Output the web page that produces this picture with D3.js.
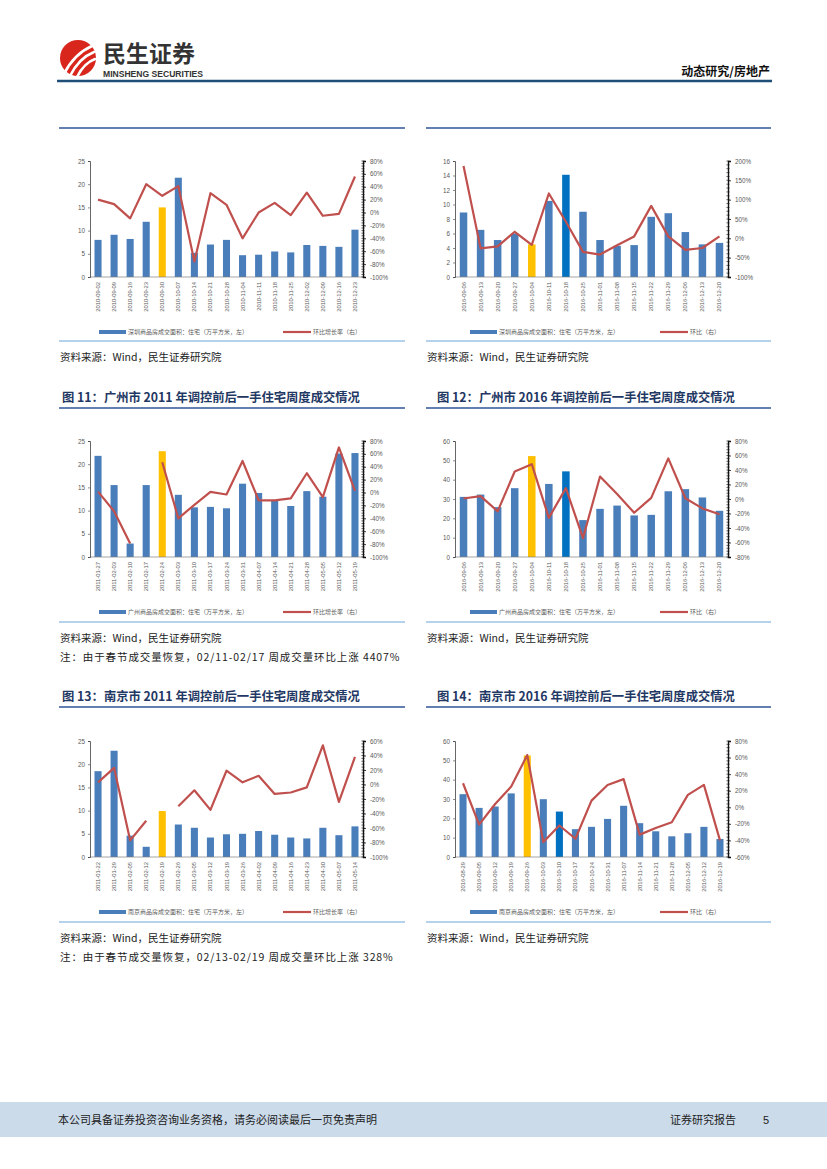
<!DOCTYPE html>
<html>
<head>
<meta charset="utf-8">
<script src="https://cdn.jsdelivr.net/npm/d3@7"></script>
<style>
  body { margin: 0; background: #fff; }
  svg { display: block; }
</style>
</head>
<body>
<svg id="page" width="827" height="1169"></svg>
<script>
// ---- data ----
// 深圳 2010
const sz2010Dates = ["2010-09-02","2010-09-09","2010-09-16","2010-09-23","2010-09-30","2010-10-07","2010-10-14","2010-10-21","2010-10-28","2010-11-04","2010-11-11","2010-11-18","2010-11-25","2010-12-02","2010-12-09","2010-12-16","2010-12-23"];
const sz2010Area = [8.0, 9.1, 8.2, 11.9, 15.0, 21.4, 5.2, 7.0, 8.0, 4.7, 4.8, 5.5, 5.3, 6.9, 6.7, 6.5, 10.2];
const sz2010Chg = [20, 13, -9, 44, 26, 41, -76, 30, 12, -40, 0, 15, -4, 31, -5, -2, 56];

// 深圳 2016
const sz2016Dates = ["2016-09-06","2016-09-13","2016-09-20","2016-09-27","2016-10-04","2016-10-11","2016-10-18","2016-10-25","2016-11-01","2016-11-08","2016-11-15","2016-11-22","2016-11-29","2016-12-06","2016-12-13","2016-12-20"];
const sz2016Area = [8.9, 6.5, 5.1, 6.0, 4.5, 10.5, 14.1, 9.0, 5.1, 4.3, 4.4, 8.3, 8.8, 6.2, 4.5, 4.7];
const sz2016Chg = [187, -26, -21, 17, -17, 116, 43, -35, -42, -18, 5, 84, 5, -30, -25, 5];

// 广州 2011 (02-17 周环比 4407%，图中不画)
const gz2011Dates = ["2011-01-27","2011-02-03","2011-02-10","2011-02-17","2011-02-24","2011-03-03","2011-03-10","2011-03-17","2011-03-24","2011-03-31","2011-04-07","2011-04-14","2011-04-21","2011-04-28","2011-05-05","2011-05-12","2011-05-19"];
const gz2011Area = [21.8, 15.5, 2.9, 15.5, 22.8, 13.4, 10.7, 10.8, 10.5, 15.8, 13.8, 12.3, 11.0, 14.2, 13.0, 22.3, 22.4];
const gz2011Chg = [1.5, -29, -79, null, 47, -40, -19, 1, -3, 49, -12, -12, -9, 30, -7, 70, 2.6];

// 广州 2016
const gz2016Dates = ["2016-09-06","2016-09-13","2016-09-20","2016-09-27","2016-10-04","2016-10-11","2016-10-18","2016-10-25","2016-11-01","2016-11-08","2016-11-15","2016-11-22","2016-11-29","2016-12-06","2016-12-13","2016-12-20"];
const gz2016Area = [31.1, 32.3, 25.8, 35.6, 52.2, 37.8, 44.3, 19.1, 24.9, 26.6, 21.5, 21.8, 34.0, 35.1, 30.8, 23.9];
const gz2016Chg = [0.7, 4, -17, 38, 48, -26, 15, -54, 31, 7, -19, 1.6, 56, 1, -13, -21];

// 南京 2011 (02-19 周环比 328%，图中不画)
const nj2011Dates = ["2011-01-22","2011-01-29","2011-02-05","2011-02-12","2011-02-19","2011-02-26","2011-03-05","2011-03-12","2011-03-19","2011-03-26","2011-04-02","2011-04-09","2011-04-16","2011-04-23","2011-04-30","2011-05-07","2011-05-14"];
const nj2011Area = [18.5, 22.9, 4.6, 2.2, 9.9, 7.0, 6.3, 4.2, 4.9, 5.0, 5.6, 4.8, 4.2, 4.0, 6.3, 4.7, 6.6];
const nj2011Chg = [3, 23, -77, -50, null, -30, -8, -35, 19, 3, 12, -13, -11, -4, 54, -24, 38];

// 南京 2016
const nj2016Dates = ["2016-08-29","2016-09-05","2016-09-12","2016-09-19","2016-09-26","2016-10-03","2016-10-10","2016-10-17","2016-10-24","2016-10-31","2016-11-07","2016-11-14","2016-11-21","2016-11-28","2016-12-05","2016-12-12","2016-12-19"];
const nj2016Area = [32.5, 25.4, 26.1, 32.9, 52.5, 29.9, 23.5, 14.4, 15.6, 19.7, 26.5, 17.5, 13.3, 10.7, 12.3, 15.6, 9.3];
const nj2016Chg = [29, -21, 4, 25, 63, -42, -22, -38, 8, 27, 34, -33, -25, -18, 15, 27, -40];

// axis ticks
const ticks25 = [0, 5, 10, 15, 20, 25];
const ticks16 = [0, 2, 4, 6, 8, 10, 12, 14, 16];
const ticks60 = [0, 10, 20, 30, 40, 50, 60];
const pct100to80 = [-100, -80, -60, -40, -20, 0, 20, 40, 60, 80];
const pct100to200 = [-100, -50, 0, 50, 100, 150, 200];
const pct80to80 = [-80, -60, -40, -20, 0, 20, 40, 60, 80];
const pct100to60 = [-100, -80, -60, -40, -20, 0, 20, 40, 60];
const pct60to80 = [-60, -40, -20, 0, 20, 40, 60, 80];

const legendArea = {
  sz: "深圳商品房成交面积：住宅（万平方米，左）",
  gz: "广州商品房成交面积：住宅（万平方米，左）",
  nj: "南京商品房成交面积：住宅（万平方米，左）"
};

// ---- styles ----
const BLUE = "#4a7ebb", YELLOW = "#ffc000", DARKBLUE = "#0070c0", RED = "#c0504d";
const SANS = "'Liberation Sans', Arial, sans-serif";
const CJK = "'Noto Sans CJK SC', sans-serif";

const svg = d3.select("#page");

function drawChart(o) {
  const g = svg.append("g");
  const x0 = o.px + 30, x1 = o.px + 303;
  const y0 = o.py, y1 = o.py + 116;

  const x = d3.scaleBand().domain(o.dates).range([x0, x1]).paddingInner(0.56).paddingOuter(0.28);
  const yL = d3.scaleLinear().domain(d3.extent(o.leftTicks)).range([y1, y0]);
  const yR = d3.scaleLinear().domain(d3.extent(o.rightTicks)).range([y1, y0]);

  // bars
  g.selectAll("rect.bar").data(o.area).join("rect")
    .attr("class", "bar")
    .attr("x", (d, i) => x(o.dates[i]))
    .attr("y", d => yL(d))
    .attr("width", x.bandwidth())
    .attr("height", d => yL(0) - yL(d))
    .attr("fill", (d, i) => (o.highlight && o.highlight[o.dates[i]]) || BLUE);

  // bottom axis line
  g.append("line").attr("x1", x0).attr("x2", x1).attr("y1", y1).attr("y2", y1)
    .attr("stroke", "#7f7f7f").attr("stroke-width", 0.7);

  // left axis
  const la = g.append("g").attr("transform", `translate(${x0},0)`)
    .call(d3.axisLeft(yL).tickValues(o.leftTicks).tickSize(2).tickPadding(3));
  la.select(".domain").attr("stroke", "#404040").attr("stroke-width", 0.8);
  la.selectAll(".tick line").attr("stroke", "#404040").attr("stroke-width", 0.6);
  la.selectAll("text").attr("font-family", SANS).attr("font-size", 6.3).attr("fill", "#595959");

  // right axis with minor ticks
  const step = o.rightTicks[1] - o.rightTicks[0];
  const minor = d3.range(o.rightTicks[0], o.rightTicks[o.rightTicks.length - 1] + 0.001, step / 5);
  g.append("g").selectAll("line").data(minor).join("line")
    .attr("x1", x1 - 1.6).attr("x2", x1 + 1.6)
    .attr("y1", d => yR(d)).attr("y2", d => yR(d))
    .attr("stroke", "#111").attr("stroke-width", 0.6);
  const ra = g.append("g").attr("transform", `translate(${x1},0)`)
    .call(d3.axisRight(yR).tickValues(o.rightTicks).tickSize(3).tickPadding(4).tickFormat(d => d + "%"));
  ra.select(".domain").attr("stroke", "#111").attr("stroke-width", 1.4);
  ra.selectAll(".tick line").attr("stroke", "#111").attr("stroke-width", 0.8);
  ra.selectAll("text").attr("font-family", SANS).attr("font-size", 6.3).attr("fill", "#595959");

  // line
  const line = d3.line()
    .defined(d => d != null)
    .x((d, i) => x(o.dates[i]) + x.bandwidth() / 2)
    .y(d => yR(d));
  g.append("path").datum(o.chg)
    .attr("d", line)
    .attr("fill", "none").attr("stroke", RED).attr("stroke-width", 2.2)
    .attr("stroke-linejoin", "round");

  // x labels
  g.selectAll("text.xl").data(o.dates).join("text")
    .attr("class", "xl")
    .attr("transform", d => `translate(${x(d) + x.bandwidth() / 2 + 2},${y1 + 5}) rotate(-90)`)
    .attr("text-anchor", "end")
    .attr("font-family", SANS).attr("font-size", 5.8).attr("fill", "#595959")
    .text(d => d);

  // legend
  const ly = o.py + 171;
  g.append("rect").attr("x", o.px + o.leg[0]).attr("y", ly - 2).attr("width", 27).attr("height", 4).attr("fill", BLUE);
  g.append("text").attr("x", o.px + o.leg[0] + 29).attr("y", ly + 2.2)
    .attr("font-family", CJK).attr("font-size", 6).attr("fill", "#595959").text(o.legA);
  g.append("line").attr("x1", o.px + o.leg[1]).attr("x2", o.px + o.leg[1] + 28)
    .attr("y1", ly).attr("y2", ly).attr("stroke", RED).attr("stroke-width", 2.2);
  g.append("text").attr("x", o.px + o.leg[1] + 30).attr("y", ly + 2.2)
    .attr("font-family", CJK).attr("font-size", 6).attr("fill", "#595959").text(o.legB);
}

// ---- page header ----
const logo = svg.append("g");
logo.append("circle").attr("cx", 78).attr("cy", 58).attr("r", 18).attr("fill", "#d8261d");
[[64, 74, 74, 54, 92, 46], [70, 76, 79, 58, 94, 52], [77, 77, 84, 63, 95, 59]].forEach(p => {
  logo.append("path")
    .attr("d", `M${p[0]},${p[1]} Q${p[2]},${p[3]} ${p[4]},${p[5]}`)
    .attr("fill", "none").attr("stroke", "#fff").attr("stroke-width", 2.6).attr("stroke-linecap", "round");
});
svg.append("text").attr("x", 103).attr("y", 62).attr("font-family", CJK).attr("font-weight", 700)
  .attr("font-size", 23).attr("fill", "#333").text("民生证券");
svg.append("text").attr("x", 103).attr("y", 77).attr("font-family", "'Liberation Sans Narrow', 'Liberation Sans', sans-serif")
  .attr("font-weight", 700).attr("font-size", 8.5).attr("fill", "#333")
  .attr("textLength", 100).attr("lengthAdjust", "spacingAndGlyphs").text("MINSHENG SECURITIES");
svg.append("text").attr("x", 770).attr("y", 76).attr("text-anchor", "end").attr("font-family", CJK)
  .attr("font-weight", 700).attr("font-size", 12).attr("fill", "#111").text("动态研究/房地产");
svg.append("line").attr("x1", 57).attr("x2", 772).attr("y1", 81).attr("y2", 81)
  .attr("stroke", "#1f4e79").attr("stroke-width", 2.5);

// ---- figure frames ----
const cols = [{ l: 59, r: 405, tx: 62 }, { l: 426, r: 771, tx: 437 }];
cols.forEach(c => {
  svg.append("line").attr("x1", c.l).attr("x2", c.r).attr("y1", 128).attr("y2", 128)
    .attr("stroke", "#2f5597").attr("stroke-width", 1.6);
});

const titles = [
  ["图 11：广州市 2011 年调控前后一手住宅周度成交情况", "图 12：广州市 2016 年调控前后一手住宅周度成交情况"],
  ["图 13：南京市 2011 年调控前后一手住宅周度成交情况", "图 14：南京市 2016 年调控前后一手住宅周度成交情况"]
];
const titleY = [398, 697];
titleY.forEach((ty, r) => {
  cols.forEach((c, k) => {
    svg.append("text").attr("x", c.tx).attr("y", ty + 4).attr("font-family", CJK).attr("font-weight", 700)
      .attr("font-size", 12.3).attr("fill", "#1f3864").text(titles[r][k]);
    svg.append("line").attr("x1", c.l).attr("x2", c.r).attr("y1", ty + 10).attr("y2", ty + 10)
      .attr("stroke", "#2f5597").attr("stroke-width", 1.6);
  });
});

const bottomY = [341, 622, 922];
bottomY.forEach(by => {
  cols.forEach(c => {
    svg.append("line").attr("x1", c.l).attr("x2", c.r).attr("y1", by).attr("y2", by)
      .attr("stroke", "#9dc3e6").attr("stroke-width", 1.4);
    svg.append("text").attr("x", c.l + 1).attr("y", by + 20).attr("font-family", CJK)
      .attr("font-size", 10.5).attr("fill", "#222").text("资料来源：Wind，民生证券研究院");
  });
});
svg.append("text").attr("x", 60).attr("y", 661).attr("font-family", CJK).attr("font-size", 10.5)
  .attr("letter-spacing", 0.9).attr("fill", "#222")
  .text("注：由于春节成交量恢复，02/11-02/17 周成交量环比上涨 4407%");
svg.append("text").attr("x", 60).attr("y", 961).attr("font-family", CJK).attr("font-size", 10.5)
  .attr("letter-spacing", 0.9).attr("fill", "#222")
  .text("注：由于春节成交量恢复，02/13-02/19 周成交量环比上涨 328%");

// ---- charts ----
drawChart({ px: 60, py: 161, dates: sz2010Dates, area: sz2010Area, chg: sz2010Chg,
  leftTicks: ticks25, rightTicks: pct100to80, highlight: { "2010-09-30": YELLOW },
  legA: legendArea.sz, legB: "环比增长率（右）", leg: [39, 223] });
drawChart({ px: 425, py: 161, dates: sz2016Dates, area: sz2016Area, chg: sz2016Chg,
  leftTicks: ticks16, rightTicks: pct100to200, highlight: { "2016-10-04": YELLOW, "2016-10-18": DARKBLUE },
  legA: legendArea.sz, legB: "环比（右）", leg: [45, 235] });
drawChart({ px: 60, py: 441, dates: gz2011Dates, area: gz2011Area, chg: gz2011Chg,
  leftTicks: ticks25, rightTicks: pct100to80, highlight: { "2011-02-24": YELLOW },
  legA: legendArea.gz, legB: "环比增长率（右）", leg: [39, 223] });
drawChart({ px: 425, py: 441, dates: gz2016Dates, area: gz2016Area, chg: gz2016Chg,
  leftTicks: ticks60, rightTicks: pct80to80, highlight: { "2016-10-04": YELLOW, "2016-10-18": DARKBLUE },
  legA: legendArea.gz, legB: "环比（右）", leg: [45, 235] });
drawChart({ px: 60, py: 741, dates: nj2011Dates, area: nj2011Area, chg: nj2011Chg,
  leftTicks: ticks25, rightTicks: pct100to60, highlight: { "2011-02-19": YELLOW },
  legA: legendArea.nj, legB: "环比增长率（右）", leg: [39, 223] });
drawChart({ px: 425, py: 741, dates: nj2016Dates, area: nj2016Area, chg: nj2016Chg,
  leftTicks: ticks60, rightTicks: pct60to80, highlight: { "2016-09-26": YELLOW, "2016-10-10": DARKBLUE },
  legA: legendArea.nj, legB: "环比（右）", leg: [45, 235] });

// ---- footer ----
svg.append("rect").attr("x", 0).attr("y", 1102).attr("width", 827).attr("height", 35).attr("fill", "#cbdbea");
svg.append("text").attr("x", 58).attr("y", 1124).attr("font-family", CJK).attr("font-size", 11).attr("fill", "#222")
  .text("本公司具备证券投资咨询业务资格，请务必阅读最后一页免责声明");
svg.append("text").attr("x", 670).attr("y", 1124).attr("font-family", CJK).attr("font-size", 11).attr("fill", "#222")
  .text("证券研究报告");
svg.append("text").attr("x", 763).attr("y", 1124).attr("font-family", SANS).attr("font-size", 11).attr("fill", "#222")
  .text("5");
</script>
</body>
</html>
